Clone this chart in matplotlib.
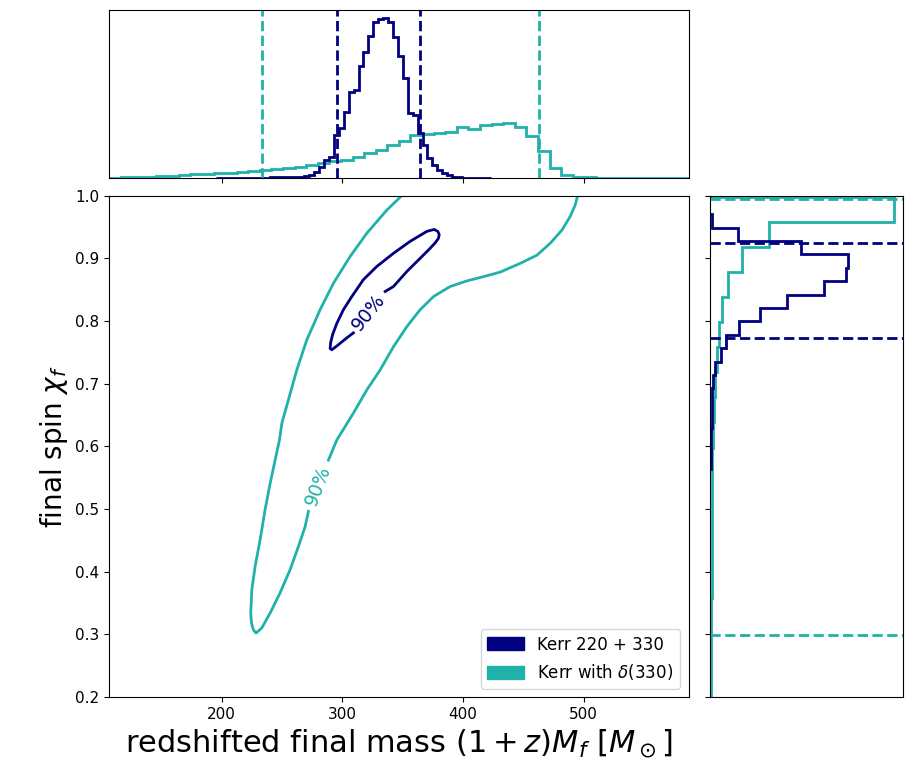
import numpy as np
import matplotlib
matplotlib.use('Agg')
import matplotlib.pyplot as plt
from matplotlib.patches import Patch

NAVY = 'navy'
TEAL = 'lightseagreen'

# ---------------- data ----------------
# top marginal: redshifted final mass
mass_edges_kerr = 195.0 + 4.08 * np.arange(57)
mass_vals_kerr = [0.002, 0.002, 0.002, 0.002, 0.003, 0.003, 0.003, 0.003, 0.004, 0.004,
                  0.004, 0.005, 0.005, 0.005, 0.005, 0.005, 0.006, 0.008, 0.012, 0.020,
                  0.040, 0.065, 0.109, 0.129, 0.260, 0.297, 0.396, 0.515, 0.525, 0.667,
                  0.752, 0.851, 0.930, 0.950, 0.955, 0.930, 0.840, 0.730, 0.600, 0.390,
                  0.380, 0.270, 0.200, 0.120, 0.080, 0.052, 0.030, 0.017, 0.010, 0.006,
                  0.004, 0.003, 0.002, 0.002, 0.002, 0.002]
mass_edges_delta = 106.8 + 9.6 * np.arange(51)
mass_vals_delta = [0.004, 0.005, 0.006, 0.010, 0.011, 0.016, 0.017, 0.024, 0.025, 0.031,
                   0.033, 0.040, 0.043, 0.052, 0.055, 0.064, 0.067, 0.079, 0.093, 0.106,
                   0.111, 0.129, 0.149, 0.168, 0.198, 0.224, 0.257, 0.265, 0.268, 0.278,
                   0.303, 0.291, 0.317, 0.325, 0.327, 0.303, 0.251, 0.162, 0.063, 0.020,
                   0.010, 0.008, 0.004, 0.004, 0.003, 0.003, 0.003, 0.003, 0.003, 0.004]
mass_ci_kerr = [295.7, 364.6]
mass_ci_delta = [233.2, 463.2]

# right marginal: final spin
spin_edges_kerr = 0.5645 + 0.02135 * np.arange(20)
spin_vals_kerr = [0.004, 0.005, 0.006, 0.008, 0.010, 0.012, 0.018, 0.026, 0.055, 0.083,
                  0.150, 0.259, 0.400, 0.591, 0.707, 0.719, 0.474, 0.147, 0.012]
spin_edges_delta = 0.198 + 0.04 * np.arange(21)
spin_vals_delta = [0.005, 0.006, 0.006, 0.007, 0.008, 0.008, 0.009, 0.010, 0.011, 0.013,
                   0.016, 0.021, 0.026, 0.035, 0.047, 0.060, 0.095, 0.164, 0.305, 0.957]
spin_ci_kerr = [0.773, 0.925]
spin_ci_delta = [0.299, 0.9946]

# 90% credible contours
kerr_c_mass = [335.4, 342.3, 353.4, 364.4, 372.7, 377.0, 379.6, 380.2, 379.0, 376.0,
               370.0, 356.1, 342.3, 328.5, 317.4, 307.8, 300.8, 295.3, 291.8, 290.2,
               289.8, 291.2, 295.3, 303.6, 309.1]
kerr_c_spin = [0.847, 0.855, 0.879, 0.900, 0.916, 0.925, 0.932, 0.938, 0.943, 0.946,
               0.943, 0.927, 0.908, 0.887, 0.866, 0.839, 0.818, 0.796, 0.778, 0.765,
               0.756, 0.754, 0.760, 0.773, 0.781]
kerr_label = (321.5, 0.814, 51)

delta_c1_mass = [352.0, 349.2, 336.8, 320.2, 306.4, 292.5, 281.5, 270.5, 262.2, 255.2,
                 249.8, 247.8, 244.2, 240.1, 235.9, 231.8, 227.6, 224.9, 224.0, 224.6,
                 226.2, 228.4, 233.1, 240.1, 248.3, 256.6, 263.5, 269.1, 271.8]
delta_c1_spin = [1.005, 1.000, 0.977, 0.940, 0.903, 0.860, 0.818, 0.770, 0.722, 0.674,
                 0.637, 0.610, 0.578, 0.541, 0.499, 0.451, 0.408, 0.371, 0.334, 0.318,
                 0.307, 0.302, 0.310, 0.334, 0.366, 0.403, 0.440, 0.472, 0.496]
delta_c2_mass = [288.4, 295.3, 309.1, 320.2, 331.3, 342.3, 353.4, 364.4, 375.5, 389.3,
                 403.2, 415.5, 430.8, 447.4, 461.2, 472.2, 481.9, 488.8, 492.9, 494.9, 495.5]
delta_c2_spin = [0.578, 0.610, 0.653, 0.690, 0.722, 0.759, 0.791, 0.818, 0.839, 0.855,
                 0.864, 0.870, 0.878, 0.892, 0.905, 0.924, 0.945, 0.967, 0.985, 1.000, 1.005]
delta_label = (279.8, 0.537, 69)

legend_labels = ['Kerr 220 + 330', r'Kerr with $\delta(330)$']
mass_ticks = [200, 300, 400, 500]
spin_ticks = [0.2, 0.3, 0.4, 0.5, 0.6, 0.7, 0.8, 0.9, 1.0]
xlim = (106.8, 586.8)
ylim = (0.2, 1.0)

# ---------------- figure ----------------
fig = plt.figure(figsize=(9.14, 7.72), dpi=100)
ax = fig.add_axes([0.1196, 0.0972, 0.6337, 0.6494])
ax_top = fig.add_axes([0.1196, 0.769, 0.6337, 0.218], sharex=ax)
ax_right = fig.add_axes([0.7768, 0.0972, 0.2112, 0.6494], sharey=ax)

# main panel contours
ax.plot(kerr_c_mass, kerr_c_spin, color=NAVY, lw=2.0, solid_joinstyle='round')
ax.plot(delta_c1_mass, delta_c1_spin, color=TEAL, lw=2.0, solid_joinstyle='round')
ax.plot(delta_c2_mass, delta_c2_spin, color=TEAL, lw=2.0, solid_joinstyle='round')
ax.text(kerr_label[0], kerr_label[1], '90%', color=NAVY, fontsize=13.5,
        rotation=kerr_label[2], ha='center', va='center', rotation_mode='anchor')
ax.text(delta_label[0], delta_label[1], '90%', color=TEAL, fontsize=13.5,
        rotation=delta_label[2], ha='center', va='center', rotation_mode='anchor')

ax.set_xlim(*xlim)
ax.set_ylim(*ylim)
ax.set_xticks(mass_ticks)
ax.set_yticks(spin_ticks)
ax.tick_params(labelsize=11)
ax.set_xlabel(r'redshifted final mass $(1+z)M_f\ [M_\odot]$', fontsize=22)
ax.set_ylabel(r'final spin $\chi_f$', fontsize=20)

handles = [Patch(facecolor=NAVY, edgecolor=NAVY), Patch(facecolor=TEAL, edgecolor=TEAL)]
ax.legend(handles, legend_labels, loc='lower right', fontsize=12,
          handlelength=2.2, handleheight=0.8)

# top marginal
ax_top.stairs(mass_vals_delta, mass_edges_delta, color=TEAL, lw=2.0)
ax_top.stairs(mass_vals_kerr, mass_edges_kerr, color=NAVY, lw=2.0)
for v in mass_ci_kerr:
    ax_top.axvline(v, color=NAVY, ls='--', lw=2.0)
for v in mass_ci_delta:
    ax_top.axvline(v, color=TEAL, ls='--', lw=2.0)
ax_top.set_ylim(0, 1.05 * max(max(mass_vals_kerr), max(mass_vals_delta)))
ax_top.set_yticks([])
ax_top.tick_params(labelbottom=False)
ax_top.set_xlim(*xlim)

# right marginal
ax_right.stairs(spin_vals_delta, spin_edges_delta, color=TEAL, lw=2.0, orientation='horizontal')
ax_right.stairs(spin_vals_kerr, spin_edges_kerr, color=NAVY, lw=2.0, orientation='horizontal')
for v in spin_ci_kerr:
    ax_right.axhline(v, color=NAVY, ls='--', lw=2.0)
for v in spin_ci_delta:
    ax_right.axhline(v, color=TEAL, ls='--', lw=2.0)
ax_right.set_xlim(0, 1.05 * max(max(spin_vals_kerr), max(spin_vals_delta)))
ax_right.set_xticks([])
ax_right.tick_params(labelleft=False)
ax_right.set_ylim(*ylim)

fig.savefig('out.png', dpi=100)
